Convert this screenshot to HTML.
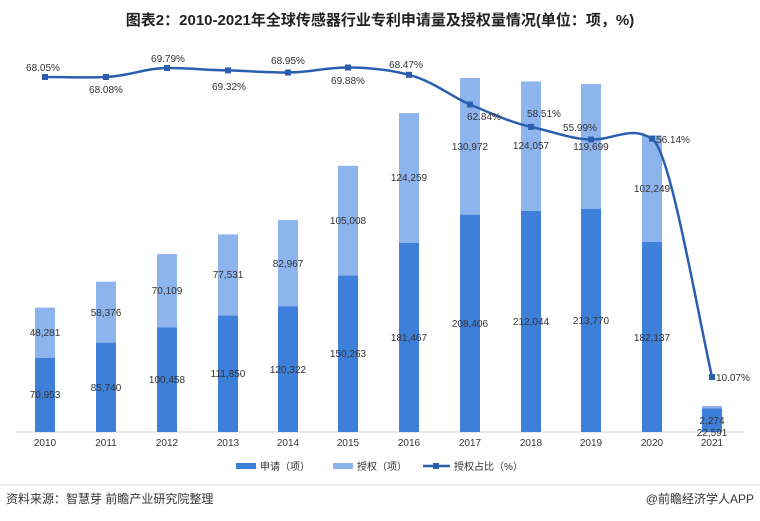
<!DOCTYPE html>
<html><head><meta charset="utf-8"><style>
body{margin:0;background:#fff}
svg{display:block;font-family:"Liberation Sans","Noto Sans CJK SC",sans-serif}
</style></head><body>
<svg width="760" height="521" viewBox="0 0 760 521">
<rect width="760" height="521" fill="#fff"/>
<text x="380" y="25" text-anchor="middle" font-size="15" font-weight="bold" fill="#222">图表2：2010-2021年全球传感器行业专利申请量及授权量情况(单位：项，%)</text>
<line x1="15" y1="432" x2="745" y2="432" stroke="#d0d0d0"/>
<g fill="#3d7fd9">
<rect x="35" y="358" width="20" height="74"/>
<rect x="96" y="342.6" width="20" height="89.4"/>
<rect x="157" y="327.2" width="20" height="104.8"/>
<rect x="218" y="315.3" width="20" height="116.7"/>
<rect x="278" y="306.5" width="20" height="125.5"/>
<rect x="338" y="275.3" width="20" height="156.7"/>
<rect x="399" y="242.7" width="20" height="189.3"/>
<rect x="460" y="214.6" width="20" height="217.4"/>
<rect x="521" y="210.8" width="20" height="221.2"/>
<rect x="581" y="209" width="20" height="223"/>
<rect x="642" y="242" width="20" height="190"/>
<rect x="702" y="408.4" width="20" height="23.6"/>
</g>
<g fill="#8db4ec">
<rect x="35" y="307.6" width="20" height="50.4"/>
<rect x="96" y="281.7" width="20" height="60.9"/>
<rect x="157" y="254.1" width="20" height="73.1"/>
<rect x="218" y="234.4" width="20" height="80.9"/>
<rect x="278" y="220" width="20" height="86.5"/>
<rect x="338" y="165.8" width="20" height="109.5"/>
<rect x="399" y="113.1" width="20" height="129.6"/>
<rect x="460" y="78" width="20" height="136.6"/>
<rect x="521" y="81.4" width="20" height="129.4"/>
<rect x="581" y="84.1" width="20" height="124.9"/>
<rect x="642" y="135.3" width="20" height="106.7"/>
<rect x="702" y="406" width="20" height="2.4"/>
</g>
<g font-size="10" fill="#333" text-anchor="middle">
<text x="45" y="398">70,953</text><text x="45" y="336">48,281</text>
<text x="106" y="391">85,740</text><text x="106" y="316">58,376</text>
<text x="167" y="383">100,458</text><text x="167" y="294">70,109</text>
<text x="228" y="377">111,850</text><text x="228" y="278">77,531</text>
<text x="288" y="373">120,322</text><text x="288" y="267">82,967</text>
<text x="348" y="357">150,263</text><text x="348" y="224">105,008</text>
<text x="409" y="341">181,467</text><text x="409" y="181">124,259</text>
<text x="470" y="327">208,406</text><text x="470" y="150">130,972</text>
<text x="531" y="325">212,044</text><text x="531" y="149">124,057</text>
<text x="591" y="324">213,770</text><text x="591" y="150">119,699</text>
<text x="652" y="341">182,137</text><text x="652" y="192">102,249</text>
<text x="712" y="424">2,274</text><text x="712" y="436">22,591</text>
</g>
<path d="M45,77 C70,77 85,78 106,77 C130,76 145,68 167,68 C190,68 205,70 228,70.4 C250,71 265,72.5 288,72.5 C310,72.5 325,67.5 348,67.5 C370,67.5 390,70 409,74.8 C435,82 450,96 470,104.5 C495,115 510,122 531,126.9 C555,132 570,139 591,139.5 C615,140 630,125 652,138.8 C670,150 695,300 712,377" fill="none" stroke="#2a5faf" stroke-width="2.5"/>
<g fill="#2a5faf">
<rect x="42" y="74" width="6" height="6"/><rect x="103" y="74" width="6" height="6"/><rect x="164" y="65" width="6" height="6"/><rect x="225" y="67.4" width="6" height="6"/><rect x="285" y="69.5" width="6" height="6"/><rect x="345" y="64.5" width="6" height="6"/><rect x="406" y="71.8" width="6" height="6"/><rect x="467" y="101.5" width="6" height="6"/><rect x="528" y="123.9" width="6" height="6"/><rect x="588" y="136.5" width="6" height="6"/><rect x="649" y="135.8" width="6" height="6"/><rect x="709" y="374" width="6" height="6"/>
</g>
<g font-size="10" fill="#333" text-anchor="middle">
<text x="43" y="71">68.05%</text><text x="106" y="93">68.08%</text><text x="168" y="62">69.79%</text><text x="229" y="90">69.32%</text><text x="288" y="64">68.95%</text><text x="348" y="84">69.88%</text><text x="406" y="68">68.47%</text><text x="484" y="120">62.84%</text><text x="544" y="117">58.51%</text><text x="580" y="131">55.99%</text><text x="673" y="143">56.14%</text><text x="733" y="381">10.07%</text>
</g>
<g font-size="10" fill="#333" text-anchor="middle">
<text x="45" y="446">2010</text><text x="106" y="446">2011</text><text x="167" y="446">2012</text><text x="228" y="446">2013</text><text x="288" y="446">2014</text><text x="348" y="446">2015</text><text x="409" y="446">2016</text><text x="470" y="446">2017</text><text x="531" y="446">2018</text><text x="591" y="446">2019</text><text x="652" y="446">2020</text><text x="712" y="446">2021</text>
</g>
<g font-size="10" fill="#333">
<rect x="236" y="463" width="20" height="6" fill="#3d7fd9"/><text x="260" y="470">申请（项）</text>
<rect x="333" y="463" width="20" height="6" fill="#8db4ec"/><text x="357" y="470">授权（项）</text>
<line x1="423" y1="466" x2="450" y2="466" stroke="#2a5faf" stroke-width="2.5"/><rect x="433" y="463" width="6" height="6" fill="#2a5faf"/><text x="454" y="470">授权占比（%）</text>
</g>
<line x1="0" y1="485" x2="760" y2="485" stroke="#e0e0e0"/>
<text x="6" y="503" font-size="12" fill="#333">资料来源：智慧芽 前瞻产业研究院整理</text>
<text x="754" y="503" font-size="12" fill="#333" text-anchor="end">@前瞻经济学人APP</text>
</svg>
</body></html>
